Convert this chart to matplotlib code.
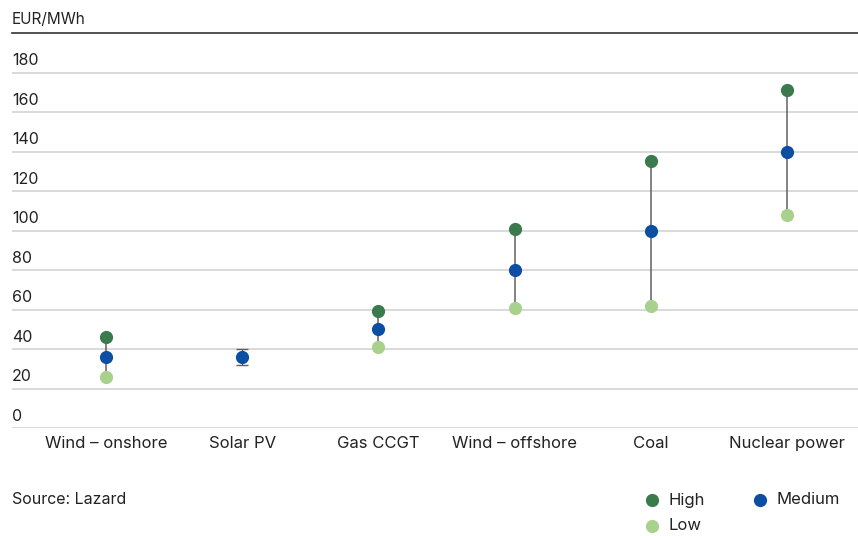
import matplotlib
matplotlib.use("Agg")
import matplotlib.pyplot as plt
from matplotlib.lines import Line2D

categories = ["Wind – onshore", "Solar PV", "Gas CCGT", "Wind – offshore", "Coal", "Nuclear power"]
high = [46, None, 59, 101, 135, 171]
medium = [36, 36, 50, 80, 100, 140]
low = [26, None, 41, 61, 62, 108]
# Solar PV is shown as a single point with a narrow range
solar_range = (32, 40)
yticks = [0, 20, 40, 60, 80, 100, 120, 140, 160, 180]

c_high = "#3b7a4c"
c_med = "#0b4ea2"
c_low = "#a9d18e"
c_link = "#606060"
c_grid = "#d9d9d9"
font = "Inter"

plt.rcParams["font.family"] = [font, "DejaVu Sans"]

fig = plt.figure(figsize=(8.58, 5.36), dpi=100)
ax = fig.add_axes([12 / 858, 108 / 536, 846 / 858, 395 / 536])
ax.set_xlim(-0.69, 5.52)
ax.set_ylim(0, 200)

for s in ["left", "right", "bottom"]:
    ax.spines[s].set_visible(False)
ax.spines["top"].set_color("#333333")
ax.spines["top"].set_linewidth(1.2)

for v in yticks:
    ax.axhline(v, color=c_grid, lw=1.4, zorder=0)
    ax.annotate(str(v), xy=(0, v), xycoords=("axes fraction", "data"),
                xytext=(0, 3), textcoords="offset points",
                ha="left", va="bottom", fontsize=11.5, color="#222222")

ax.set_yticks([])
ax.set_xticks(range(len(categories)))
ax.set_xticklabels(categories, fontsize=12, color="#222222")
ax.tick_params(axis="x", length=0, pad=6)

ms = 9.5
for i, cat in enumerate(categories):
    if high[i] is not None and low[i] is not None:
        ax.plot([i, i], [low[i], high[i]], color=c_link, lw=1.1, zorder=1)
        ax.plot(i, high[i], "o", color=c_high, ms=ms, mec="none", zorder=3)
        ax.plot(i, low[i], "o", color=c_low, ms=ms, mec="none", zorder=3)
    else:
        ax.errorbar(i, medium[i],
                    yerr=[[medium[i] - solar_range[0]], [solar_range[1] - medium[i]]],
                    fmt="none", ecolor=c_link, elinewidth=1.0, capsize=4, capthick=1.0,
                    zorder=1)
    ax.plot(i, medium[i], "o", color=c_med, ms=ms, mec="none", zorder=4)

fig.text(12 / 858, 1 - 20 / 536, "EUR/MWh", ha="left", va="center",
         fontsize=11, color="#222222")
fig.text(12 / 858, 1 - 500 / 536, "Source: Lazard", ha="left", va="center",
         fontsize=11.5, color="#222222")

legend_items = [("High", c_high, 652, 500), ("Medium", c_med, 760, 500), ("Low", c_low, 652, 526)]
for label, col, x, y in legend_items:
    fig.add_artist(Line2D([x / 858], [1 - y / 536], marker="o", color=col, ms=ms,
                          mec="none", linestyle="none", transform=fig.transFigure))
    fig.text((x + 17) / 858, 1 - y / 536, label, ha="left", va="center",
             fontsize=12, color="#222222")

fig.savefig("out.png", dpi=100, facecolor="white")
